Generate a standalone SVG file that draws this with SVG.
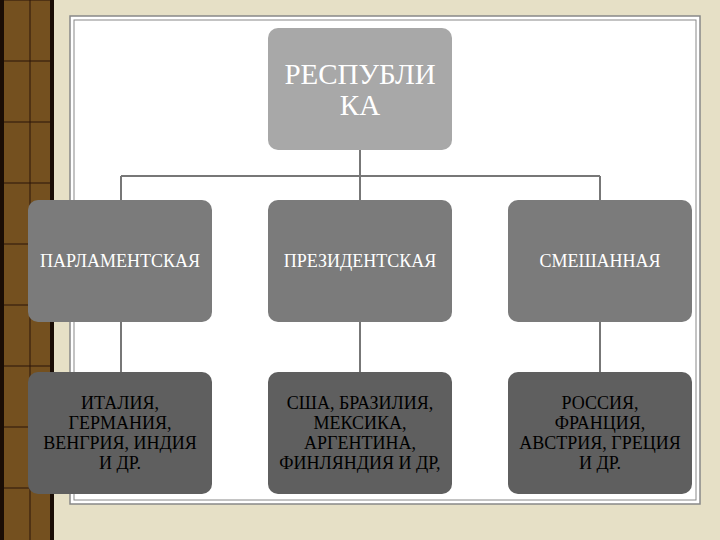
<svg xmlns="http://www.w3.org/2000/svg" width="720" height="540" viewBox="0 0 720 540">
<defs>
<style>
.t{font-family:"Liberation Serif",serif;font-size:18px;text-anchor:middle}
.w{fill:#fff}
.k{fill:#000}
.c{stroke:#777;stroke-width:2;fill:none}
</style>
<pattern id="grid" width="27" height="61" patternUnits="userSpaceOnUse" x="3" y="0">
<rect width="27" height="61" fill="#74501f"/>
<rect width="27" height="61" fill="none" stroke="#2a1408" stroke-width="1"/>
</pattern>
</defs>
<rect width="720" height="540" fill="#e6e0c6"/>
<rect x="0" y="0" width="54" height="540" fill="url(#grid)"/>
<rect x="0" y="0" width="4" height="540" fill="#1a0d05"/>
<rect x="50" y="0" width="4" height="540" fill="#1a0d05"/>
<rect x="70" y="16" width="630" height="488" fill="#fff" stroke="#888" stroke-width="1.5"/>
<rect x="74" y="20" width="622" height="480" fill="#fff" stroke="#888" stroke-width="1"/>
<g id="connectors" class="c">
<path d="M360 150V200M121 176H600M121 176V200M600 176V200M121 322V372M360 322V372M600 322V372"/>
</g>
<g id="n0"><rect x="268" y="28" width="184" height="122" rx="10" fill="#a8a8a8"/>
<text class="t w" style="font-size:29px" x="360" y="84">РЕСПУБЛИ</text><text class="t w" style="font-size:29px" x="360" y="115">КА</text></g>
<g id="n1"><rect x="28" y="200" width="184" height="122" rx="10" fill="#7b7b7b"/><text class="t w" x="120" y="267">ПАРЛАМЕНТСКАЯ</text></g>
<g id="n2"><rect x="268" y="200" width="184" height="122" rx="10" fill="#7b7b7b"/><text class="t w" x="360" y="267">ПРЕЗИДЕНТСКАЯ</text></g>
<g id="n3"><rect x="508" y="200" width="184" height="122" rx="10" fill="#7b7b7b"/><text class="t w" x="600" y="267">СМЕШАННАЯ</text></g>
<g id="n4"><rect x="28" y="372" width="184" height="122" rx="10" fill="#5f5f5f"/>
<text class="t k" x="120" y="409">ИТАЛИЯ,</text><text class="t k" x="120" y="429">ГЕРМАНИЯ,</text><text class="t k" x="120" y="449">ВЕНГРИЯ, ИНДИЯ</text><text class="t k" x="120" y="469">И ДР.</text></g>
<g id="n5"><rect x="268" y="372" width="184" height="122" rx="10" fill="#5f5f5f"/>
<text class="t k" x="360" y="409">США, БРАЗИЛИЯ,</text><text class="t k" x="360" y="429">МЕКСИКА,</text><text class="t k" x="360" y="449">АРГЕНТИНА,</text><text class="t k" x="360" y="469">ФИНЛЯНДИЯ И ДР,</text></g>
<g id="n6"><rect x="508" y="372" width="184" height="122" rx="10" fill="#5f5f5f"/>
<text class="t k" x="600" y="409">РОССИЯ,</text><text class="t k" x="600" y="429">ФРАНЦИЯ,</text><text class="t k" x="600" y="449">АВСТРИЯ, ГРЕЦИЯ</text><text class="t k" x="600" y="469">И ДР.</text></g>
</svg>
